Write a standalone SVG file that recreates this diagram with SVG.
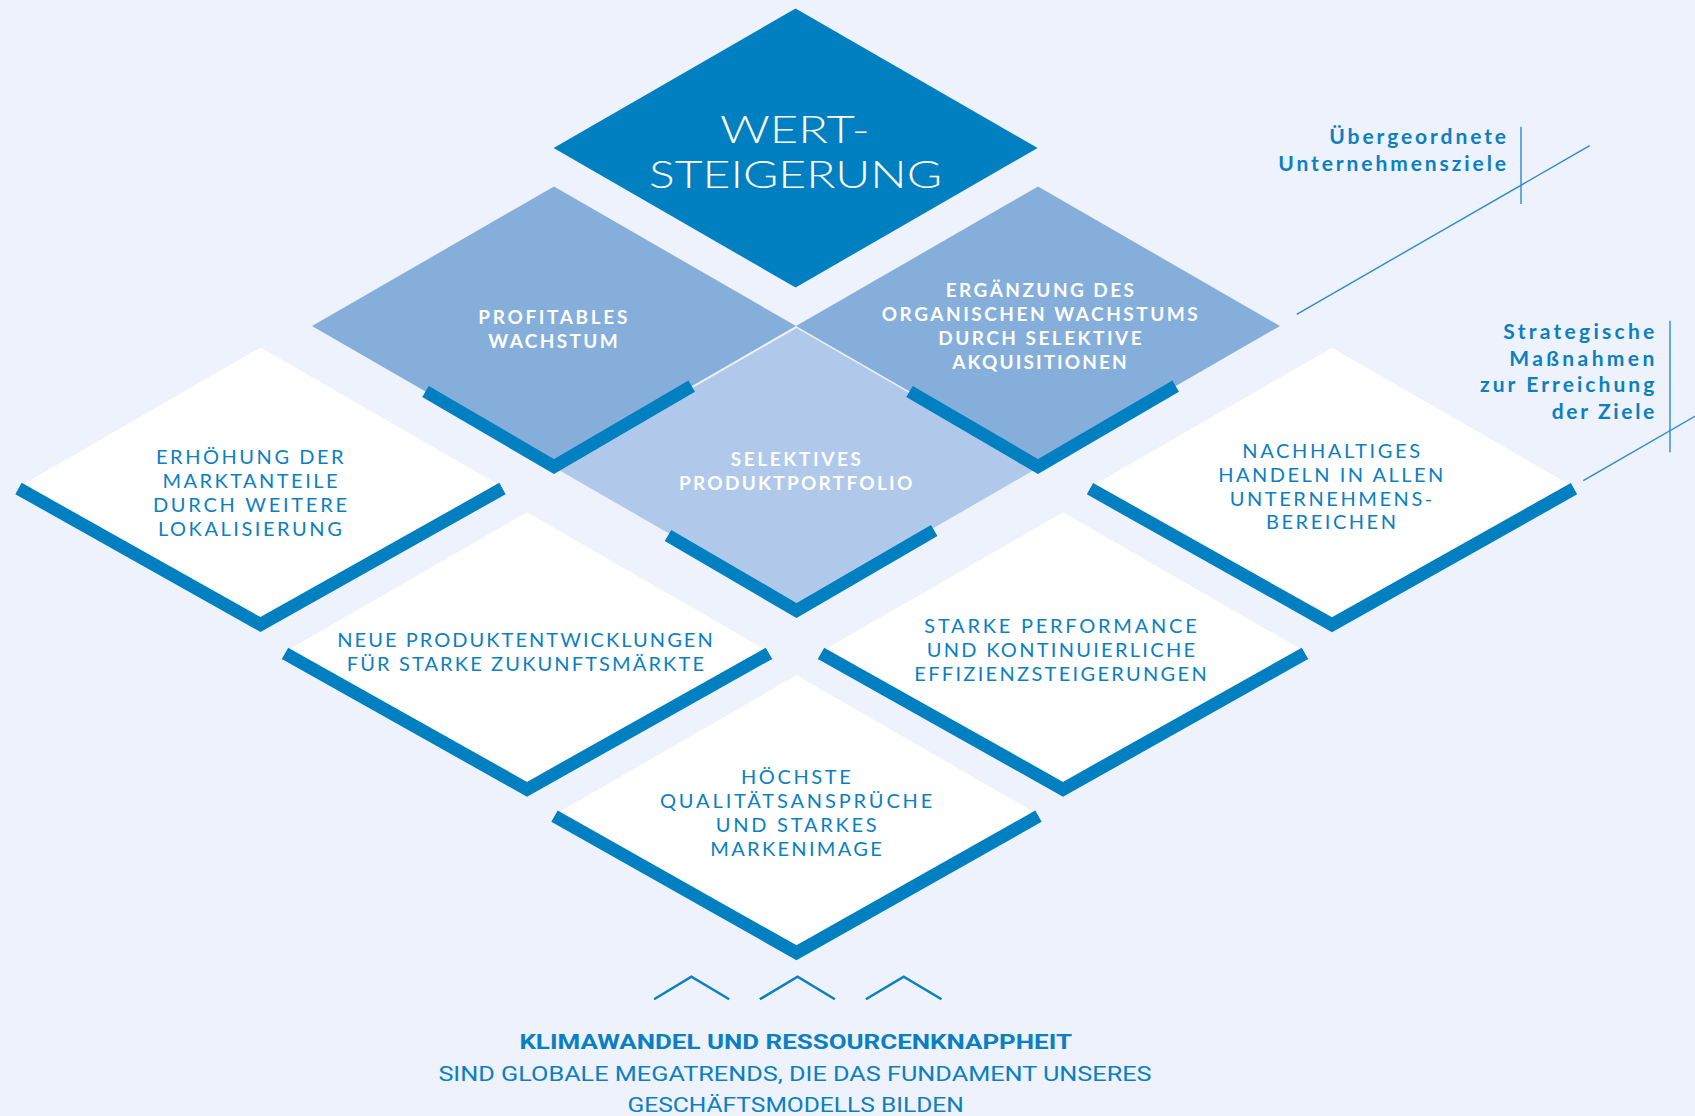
<svg xmlns="http://www.w3.org/2000/svg" width="1695" height="1116" viewBox="0 0 1695 1116">
<style>
.goal{fill:#0080C0}
.mid{fill:#85AEDB}
.core{fill:#B0C9EB}
.wd{fill:#FFFFFF}
.band{fill:none;stroke:#0080C0;stroke-width:13;stroke-linejoin:miter;stroke-miterlimit:10;stroke-linecap:butt}
.lbl{font-family:Lato,"Noto Sans",sans-serif;font-size:20px;fill:#0A7FC2}
.lblw{font-family:Lato,"Noto Sans",sans-serif;font-size:19px;font-weight:bold;fill:#FFFFFF}
.big{font-family:Lato,"Noto Sans",sans-serif;font-size:37px;font-weight:300;fill:#FFFFFF}
.side{font-family:Lato,"Noto Sans",sans-serif;font-size:21px;font-weight:bold;fill:#0A7FC2}
.foot{font-family:Roboto,"Liberation Sans",sans-serif;font-size:20px;fill:#0A7FC2}
.thin{fill:none;stroke:#2C8CCB;stroke-width:1.4}
.chev{fill:none;stroke:#0A7FC2;stroke-width:2.5}
</style>
<rect x="0" y="0" width="1695" height="1116" fill="#EDF2FC"/>

<g id="wertsteigerung">
<polygon class="goal" points="795.6,8.5 1037.6,148 795.6,287.5 553.6,148"/>
<text class="big" x="720" y="142.5" textLength="150" lengthAdjust="spacingAndGlyphs">WERT-</text>
<text class="big" x="649" y="187.5" textLength="293" lengthAdjust="spacingAndGlyphs">STEIGERUNG</text>
</g>

<g id="profitables-wachstum">
<polygon class="mid" points="554,186.5 796,326 554,465.5 312,326"/>
<text class="lblw" x="478.3" y="324" textLength="149">PROFITABLES</text>
<text class="lblw" x="488.3" y="348.3" textLength="129.4">WACHSTUM</text>
</g>

<g id="ergaenzung-akquisitionen">
<polygon class="mid" points="1038,186.5 1280,326 1038,465.5 796,326"/>
<text class="lblw" x="945.7" y="296.7" textLength="188.3">ERGÄNZUNG DES</text>
<text class="lblw" x="881.7" y="321" textLength="316">ORGANISCHEN WACHSTUMS</text>
<text class="lblw" x="938.3" y="345" textLength="203.4">DURCH SELEKTIVE</text>
<text class="lblw" x="952.3" y="369" textLength="174.4">AKQUISITIONEN</text>
</g>

<g id="selektives-produktportfolio">
<polygon class="core" points="796.5,328 1038.5,467.5 796.5,607 554.5,467.5"/>
<polyline class="band" points="668,535.5 796.5,610.5 934.2,530.5"/>
<text class="lblw" x="730.7" y="466" textLength="130.3">SELEKTIVES</text>
<text class="lblw" x="679" y="490" textLength="233.3">PRODUKTPORTFOLIO</text>
</g>

<g id="bands-upper">
<polyline class="band" points="425.5,391.5 554,466.5 691.7,386.2"/>
<polyline class="band" points="909.5,391.5 1038,466.5 1175.7,386.2"/>
</g>

<g id="marktanteile">
<polygon class="wd" points="260.5,347.5 502.5,487 260.5,624.5 18.5,487"/>
<polyline class="band" points="18.5,488.5 260.5,624.5 502.5,488.5"/>
<text class="lbl" x="156" y="464" textLength="187.6">ERHÖHUNG DER</text>
<text class="lbl" x="162.5" y="487.7" textLength="175">MARKTANTEILE</text>
<text class="lbl" x="152.9" y="511.7" textLength="194.1">DURCH WEITERE</text>
<text class="lbl" x="157.9" y="535.7" textLength="183.9">LOKALISIERUNG</text>
</g>

<g id="nachhaltiges-handeln">
<polygon class="wd" points="1332,347.7 1574,487.2 1332,624.7 1090,487.2"/>
<polyline class="band" points="1090,488.7 1332,624.7 1574,488.7"/>
<text class="lbl" x="1242.3" y="457.7" textLength="177.7">NACHHALTIGES</text>
<text class="lbl" x="1218.3" y="481.7" textLength="225">HANDELN IN ALLEN</text>
<text class="lbl" x="1229.7" y="505.7" textLength="202.6">UNTERNEHMENS-</text>
<text class="lbl" x="1266" y="529.3" textLength="130">BEREICHEN</text>
</g>

<g id="produktentwicklungen">
<polygon class="wd" points="527,512.3 769,651.8 527,789.3 285,651.8"/>
<polyline class="band" points="285,653.3 527,789.3 769,653.3"/>
<text class="lbl" x="337.3" y="646.7" textLength="375.4">NEUE PRODUKTENTWICKLUNGEN</text>
<text class="lbl" x="346.7" y="670.7" textLength="357.3">FÜR STARKE ZUKUNFTSMÄRKTE</text>
</g>

<g id="performance-effizienz">
<polygon class="wd" points="1063,512.3 1305,651.8 1063,789.3 821,651.8"/>
<polyline class="band" points="821,653.3 1063,789.3 1305,653.3"/>
<text class="lbl" x="924.3" y="632.7" textLength="272.4">STARKE PERFORMANCE</text>
<text class="lbl" x="926.7" y="656.7" textLength="268.3">UND KONTINUIERLICHE</text>
<text class="lbl" x="914.3" y="681" textLength="292.4">EFFIZIENZSTEIGERUNGEN</text>
</g>

<g id="qualitaet-marke">
<polygon class="wd" points="796.5,675.2 1038.5,814.7 796.5,952.2 554.5,814.7"/>
<polyline class="band" points="554.5,816.2 796.5,952.7 1038.5,816.2"/>
<text class="lbl" x="741" y="784" textLength="109.7">HÖCHSTE</text>
<text class="lbl" x="660" y="807.7" textLength="272.3">QUALITÄTSANSPRÜCHE</text>
<text class="lbl" x="715.7" y="831.7" textLength="161">UND STARKES</text>
<text class="lbl" x="710.3" y="856" textLength="171.4">MARKENIMAGE</text>
</g>

<g id="label-ziele">
<text class="side" x="1329.3" y="144" textLength="176.7">Übergeordnete</text>
<text class="side" x="1278.3" y="170.7" textLength="227.7">Unternehmensziele</text>
</g>

<g id="label-massnahmen">
<text class="side" x="1503.3" y="339" textLength="151">Strategische</text>
<text class="side" x="1509.3" y="365.7" textLength="145">Maßnahmen</text>
<text class="side" x="1480" y="392.3" textLength="174.3">zur Erreichung</text>
<text class="side" x="1551.7" y="419" textLength="102.6">der Ziele</text>
</g>

<g id="connectors">
<line class="thin" x1="1521" y1="126.7" x2="1521" y2="204"/>
<line class="thin" x1="1589.7" y1="145.7" x2="1296.7" y2="314.3"/>
<line class="thin" x1="1670" y1="320.7" x2="1670" y2="452.3"/>
<line class="thin" x1="1700" y1="413.3" x2="1583.3" y2="480.7"/>
</g>

<g id="megatrends">
<polyline class="chev" points="654.1,999.3 691.4,976.7 729.2,999.3"/>
<polyline class="chev" points="759.8,999.3 797.6,976.7 834.9,999.3"/>
<polyline class="chev" points="865.9,999.3 903.7,976.7 941.5,999.3"/>
<text class="foot" x="519.4" y="1049" font-weight="bold" textLength="552.6" lengthAdjust="spacingAndGlyphs">KLIMAWANDEL UND RESSOURCENKNAPPHEIT</text>
<text class="foot" x="438.4" y="1080.7" textLength="713.2" lengthAdjust="spacingAndGlyphs">SIND GLOBALE MEGATRENDS, DIE DAS FUNDAMENT UNSERES</text>
<text class="foot" x="627.5" y="1112" textLength="336.3" lengthAdjust="spacingAndGlyphs">GESCHÄFTSMODELLS BILDEN</text>
</g>
</svg>
